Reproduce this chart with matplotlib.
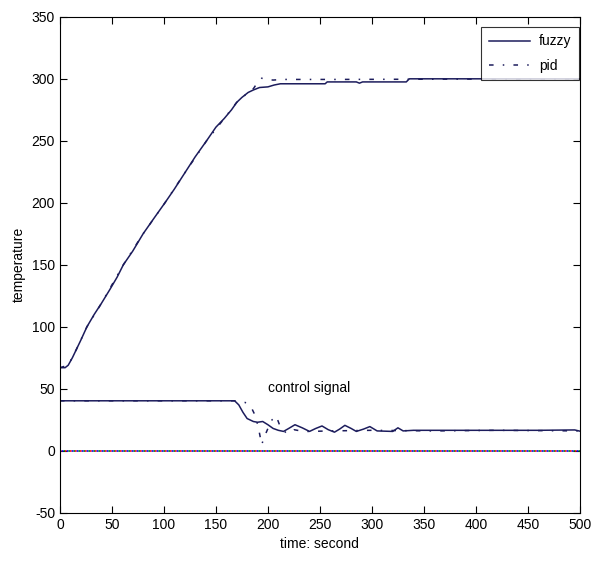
import numpy as np
import matplotlib.pyplot as plt

plt.rcParams['font.family'] = ['Liberation Sans', 'DejaVu Sans']
plt.rcParams['axes.unicode_minus'] = False

# ── Donnees ───────────────────────────────────────────────────────────────────
t_temp_fuzzy = [0, 5, 8, 12, 16, 20, 26, 33, 40, 48, 55, 61, 70, 80, 90, 101,
                110, 120, 130, 141, 150, 158, 165, 170, 175, 181, 186, 192,
                200, 206, 212, 255, 257, 285, 288, 291, 295, 333, 336, 500]
temp_fuzzy = [67, 67, 69, 75, 82, 89, 100, 110, 119, 130, 140, 150, 161, 175,
              187, 200, 211, 224, 237, 250, 261, 268, 275, 281, 285, 289, 291,
              293, 293.5, 295, 296, 296, 297.5, 297.5, 296.5, 297.5, 297.5,
              297.5, 300, 300]

t_temp_pid = [0, 8, 16, 26, 40, 61, 80, 101, 120, 141, 158, 170, 181, 186,
              190, 194, 198, 205, 215, 260, 500]
temp_pid = [67, 69, 82, 100, 119, 150, 175, 200, 224, 250, 268, 281, 289,
            292, 297, 300.5, 299.5, 299, 299.5, 299.5, 300]

t_ctrl_fuzzy = [0, 168, 172, 176, 180, 186, 190, 195, 200, 205, 210, 215, 220,
                226, 233, 240, 246, 252, 258, 264, 269, 274, 280, 285, 292,
                298, 305, 320, 325, 330, 340, 400, 460, 495, 500]
ctrl_fuzzy = [40.3, 40.3, 37, 31, 26, 23.6, 23, 23.6, 21, 18, 16.5, 15.6,
              18, 21, 18.5, 15.6, 18, 20, 17, 15, 17.5, 20.5, 18, 15.6, 17.5,
              19.5, 16, 15.6, 18.5, 16, 16.5, 16.5, 16.5, 16.8, 15.8]

t_ctrl_pid = [0, 170, 178, 184, 188, 191, 194, 197, 200, 204, 208, 212, 218,
              225, 235, 260, 300, 360, 420, 500]
ctrl_pid = [40.3, 40.3, 39, 35, 28, 18, 5, 12, 18, 25, 28, 19, 14, 17, 15.5,
            16, 16.5, 16, 16.5, 16]

t_zero = [0, 500]
zero = [0, 0]

NAVY = '#1c1c5c'

# ── Figure ────────────────────────────────────────────────────────────────────
fig = plt.figure(figsize=(5.93, 5.61), dpi=100)
ax = fig.add_axes([0.101, 0.086, 0.877, 0.884])

ax.plot(t_temp_fuzzy, temp_fuzzy, color=NAVY, lw=1.1, label='fuzzy')
ax.plot(t_temp_pid, temp_pid, color=NAVY, lw=1.1,
        linestyle=(0, (3, 6, 1, 6)), label='pid')
ax.plot(t_ctrl_fuzzy, ctrl_fuzzy, color=NAVY, lw=1.1)
ax.plot(t_ctrl_pid, ctrl_pid, color=NAVY, lw=1.1,
        linestyle=(0, (3, 6, 1, 6)))

# ligne zero multicolore
ax.plot(t_zero, zero, color='red', lw=1.2, linestyle=(0, (1, 2)))
ax.plot(t_zero, zero, color='green', lw=1.2, linestyle=(1, (1, 2)))
ax.plot(t_zero, zero, color='blue', lw=1.2, linestyle=(2, (1, 2)))

ax.text(200, 51, 'control signal', fontsize=10, va='center', ha='left')

ax.set_xlim(0, 500)
ax.set_ylim(-50, 350)
ax.set_xticks(np.arange(0, 501, 50))
ax.set_yticks(np.arange(-50, 351, 50))
ax.tick_params(direction='in', top=True, right=True, labelsize=10, length=5)
ax.set_xlabel('time: second', fontsize=10)
ax.set_ylabel('temperature', fontsize=10)

leg = ax.legend(loc='upper right', bbox_to_anchor=(0.998, 0.98), fontsize=10,
                frameon=True, fancybox=False, edgecolor='black',
                borderaxespad=0, handlelength=3.0, labelspacing=0.75,
                borderpad=0.55, handletextpad=0.6)
leg.get_frame().set_linewidth(0.8)

plt.savefig('out.png', dpi=100)
